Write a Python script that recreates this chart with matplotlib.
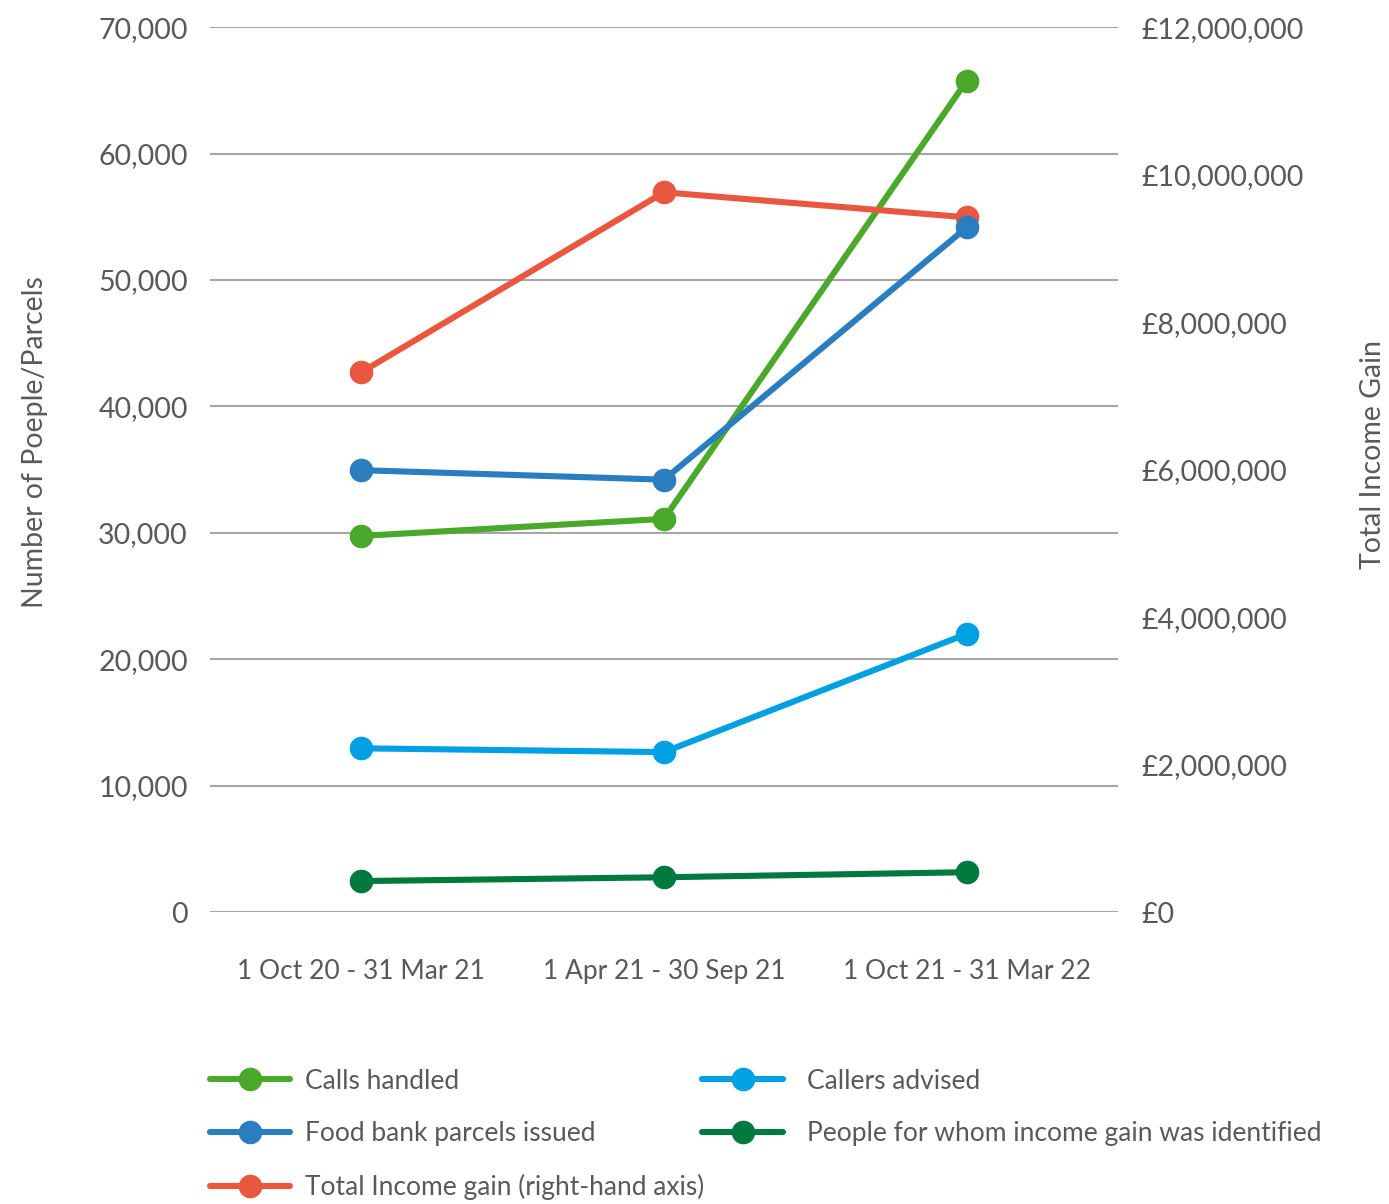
import matplotlib
matplotlib.use("Agg")
import matplotlib.pyplot as plt
from matplotlib.ticker import FuncFormatter

plt.rcParams["font.family"] = ["Lato", "DejaVu Sans"]

periods = ["1 Oct 20 - 31 Mar 21", "1 Apr 21 - 30 Sep 21", "1 Oct 21 - 31 Mar 22"]
calls_handled = [29750, 31100, 65750]
parcels_issued = [34950, 34200, 54150]
callers_advised = [12950, 12650, 22000]
income_gain_people = [2450, 2750, 3150]
total_income_gain = [7320000, 9760000, 9420000]

left_ticks = [0, 10000, 20000, 30000, 40000, 50000, 60000, 70000]
right_ticks = [0, 2000000, 4000000, 6000000, 8000000, 10000000, 12000000]

text_col = "#595959"
grid_col = "#a6a6a6"
fs = 20.5
fs_small = 19

fig = plt.figure(figsize=(13.89, 12.04), dpi=100)
ax = fig.add_axes([0.1512, 0.2425, 0.6537, 0.735])
ax2 = ax.twinx()

x = list(range(len(periods)))
style = dict(linewidth=4.4, marker="o", markersize=16, solid_capstyle="round")

l_calls, = ax.plot(x, calls_handled, color="#4aa82b", label="Calls handled", zorder=3, **style)
# income is read against the right-hand scale but kept in the same layer stack
l_income, = ax.plot(x, total_income_gain, color="#e9573f", transform=ax2.transData,
                    label="Total Income gain (right-hand axis)", zorder=3.2, **style)
l_parcels, = ax.plot(x, parcels_issued, color="#2a7dbf", label="Food bank parcels issued", zorder=3.4, **style)
l_advised, = ax.plot(x, callers_advised, color="#00a0e3", label="Callers advised", zorder=3.1, **style)
l_people, = ax.plot(x, income_gain_people, color="#00793f",
                    label="People for whom income gain was identified", zorder=3.1, **style)

ax.set_xlim(-0.5, len(periods) - 0.5)
ax.set_ylim(0, 70000)
ax.set_yticks(left_ticks)
ax.yaxis.set_major_formatter(FuncFormatter(lambda v, p: f"{int(v):,}"))
ax.set_xticks(x)
ax.set_xticklabels(periods)
ax.grid(axis="y", color=grid_col, linewidth=1.5)
ax.set_axisbelow(True)

ax2.set_ylim(0, 12000000)
ax2.set_yticks(right_ticks)
ax2.yaxis.set_major_formatter(FuncFormatter(lambda v, p: f"£{int(v):,}"))

for a in (ax, ax2):
    for s in a.spines.values():
        s.set_visible(False)
    a.patch.set_visible(False)

ax.tick_params(axis="y", length=0, pad=16, labelsize=fs, labelcolor=text_col)
ax.tick_params(axis="x", length=0, pad=34, labelsize=fs_small, labelcolor=text_col)
ax2.tick_params(axis="y", length=0, pad=17, labelsize=fs, labelcolor=text_col)

ax.set_ylabel("Number of Poeple/Parcels", fontsize=fs, color=text_col)
ax.yaxis.set_label_coords(-0.178, 0.531)
ax2.set_ylabel("Total Income Gain", fontsize=fs, color=text_col, rotation=90)
ax2.yaxis.set_label_coords(1.266, 0.5175)

leg_kw = dict(loc="upper left", frameon=False, fontsize=fs_small, handlelength=3.05,
              labelspacing=1.05, borderpad=0, borderaxespad=0, labelcolor=text_col)
fig.legend(handles=[l_calls, l_parcels, l_income], bbox_to_anchor=(0.151, 0.1125),
           handletextpad=0.55, **leg_kw)
fig.legend(handles=[l_advised, l_people], bbox_to_anchor=(0.5056, 0.1125),
           handletextpad=0.9, **leg_kw)

fig.savefig("out.png", dpi=100)
